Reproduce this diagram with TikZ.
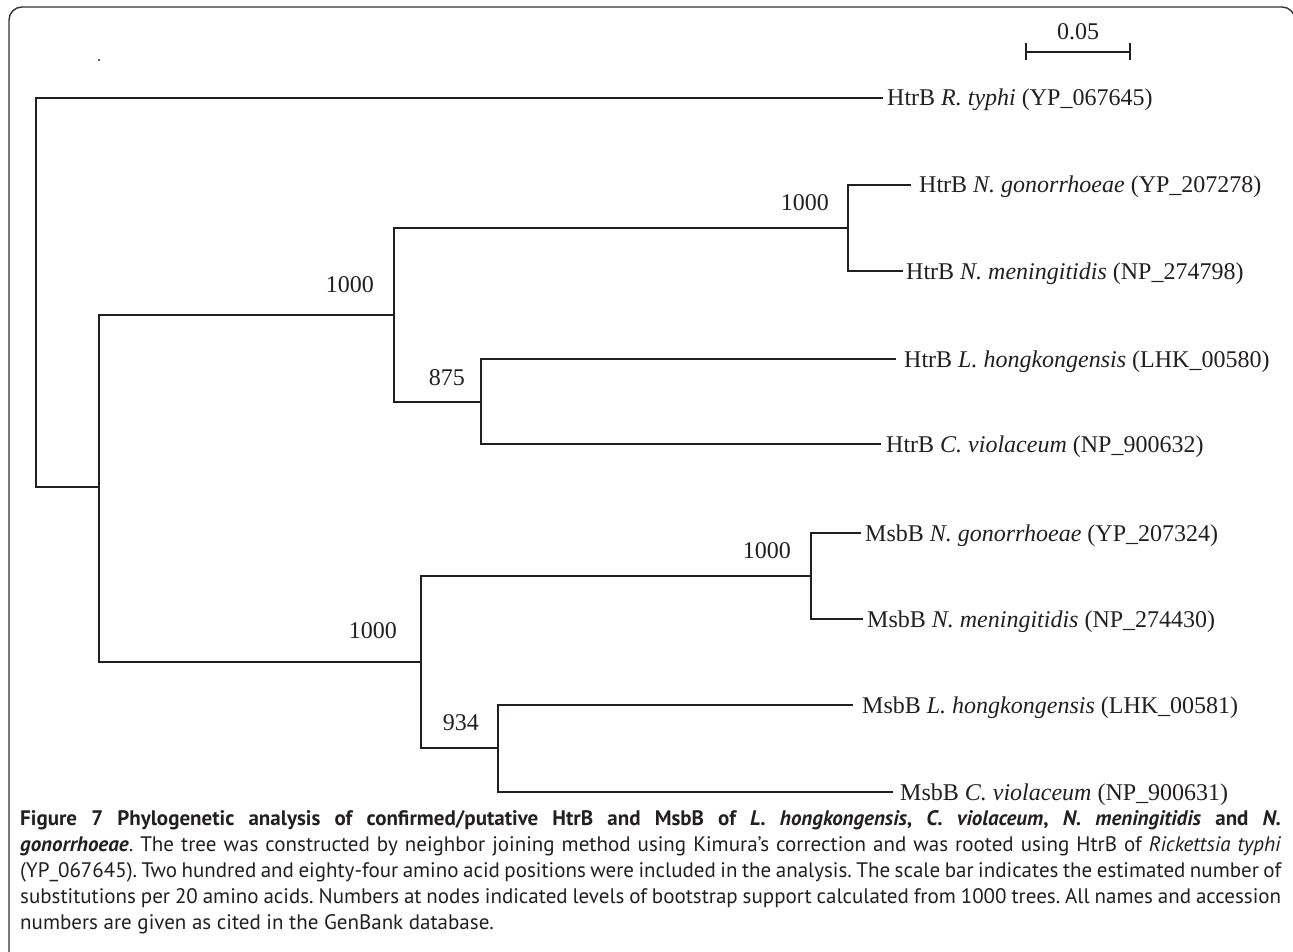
\documentclass[tikz,border=0pt]{standalone}
\usepackage{fontspec}
\setmainfont{Liberation Serif}
\newfontfamily\capfont{PT Sans}
\definecolor{ink}{HTML}{231F20}
\definecolor{framecol}{HTML}{333333}
\begin{document}
\begin{tikzpicture}[x=1pt,y=-1pt,
  branch/.style={draw=ink,line width=1.9pt,line cap=rect},
  leaf/.style={anchor=west,inner ysep=0pt,text height=16pt,text depth=0pt,text=ink,font=\fontsize{24}{28}\selectfont},
  boot/.style={anchor=east,inner sep=0pt,text=ink,font=\fontsize{24}{28}\selectfont},
  framebox/.style={draw=framecol,line width=1.4pt,rounded corners=13pt}]
\clip (0,0) rectangle (1293,952);
\fill[white] (0,0) rectangle (1293,952);
% frame
\draw[framebox] (9,990) -- (9,7) -- (1295,7) -- (1295,990);
% stray dot
\fill[ink] (99,60) circle (1.2);
% scale bar
\coordinate (sbL) at (1026,52);
\coordinate (sbR) at (1130,52);
\draw[branch,line cap=butt] (sbL) -- (sbR);
\draw[branch,line width=1.6pt,line cap=butt] ([yshift=-8]sbL) -- ([yshift=9]sbL);
\draw[branch,line width=1.6pt,line cap=butt] ([yshift=-8]sbR) -- ([yshift=9]sbR);
\node[boot,anchor=center] (sblab) at (1078,32) {0.05};
% internal nodes (x of vertical, y of incoming branch)
\coordinate (R) at (36,487);
\coordinate (A) at (99,487);
\coordinate (B) at (394,315);
\coordinate (C) at (848,228);
\coordinate (D) at (481,402);
\coordinate (E) at (421,662);
\coordinate (F) at (811,576);
\coordinate (G) at (498,748);
% leaves
\node[leaf,inner xsep=5pt] (t1) at (882,98) {HtrB \textit{R. typhi} (YP\_067645)};
\node[leaf,inner xsep=9pt] (t2) at (910,185) {HtrB \textit{N. gonorrhoeae} (YP\_207278)};
\node[leaf,inner xsep=4pt] (t3) at (902,271) {HtrB \textit{N. meningitidis} (NP\_274798)};
\node[leaf,inner xsep=9pt] (t4) at (895,359) {HtrB \textit{L. hongkongensis} (LHK\_00580)};
\node[leaf,inner xsep=6pt] (t5) at (880,444) {HtrB \textit{C. violaceum} (NP\_900632)};
\node[leaf,inner xsep=5pt] (t6) at (860,533) {MsbB \textit{N. gonorrhoeae} (YP\_207324)};
\node[leaf,inner xsep=5pt] (t7) at (862,619) {MsbB \textit{N. meningitidis} (NP\_274430)};
\node[leaf,inner xsep=10pt] (t8) at (852,705) {MsbB \textit{L. hongkongensis} (LHK\_00581)};
\node[leaf,inner xsep=8pt] (t9) at (892,792) {MsbB \textit{C. violaceum} (NP\_900631)};
% branches
\draw[branch] (t1.west) -| (R) |- (A);
\draw[branch] (B) -| (A) |- (E);
\draw[branch] (C) -| (B) |- (D);
\draw[branch] (t2.west) -| (C) |- (t3.west);
\draw[branch] (t4.west) -| (D) |- (t5.west);
\draw[branch] (F) -| (E) |- (G);
\draw[branch] (t6.west) -| (F) |- (t7.west);
\draw[branch] (t8.west) -| (G) |- (t9.west);
% bootstrap values
\node[boot] (bC) at (829,203) {1000};
\node[boot] (bB) at (374,285) {1000};
\node[boot] (bD) at (465,378) {875};
\node[boot] (bE) at (397,631) {1000};
\node[boot] (bF) at (791,551) {1000};
\node[boot] (bG) at (479,723) {934};
% caption
\node[anchor=base west,inner sep=0pt,text=ink] (cap) at (20,825) {\parbox[t]{1261pt}{\capfont\frenchspacing\fontsize{21}{26}\selectfont
\makebox[1261pt][s]{\textbf{Figure 7 Phylogenetic analysis of confirmed/putative HtrB and MsbB of \textit{L. hongkongensis}, \textit{C. violaceum}, \textit{N. meningitidis} and \textit{N.}}}\\
\makebox[1261pt][s]{\textbf{\textit{gonorrhoeae}}. The tree was constructed by neighbor joining method using Kimura’s correction and was rooted using HtrB of \textit{Rickettsia typhi}}\\
\makebox[1261pt][s]{(YP\_067645). Two hundred and eighty-four amino acid positions were included in the analysis. The scale bar indicates the estimated number of}\\
\makebox[1261pt][s]{substitutions per 20 amino acids. Numbers at nodes indicated levels of bootstrap support calculated from 1000 trees. All names and accession}\\
numbers are given as cited in the GenBank database.}};
\end{tikzpicture}
\end{document}
